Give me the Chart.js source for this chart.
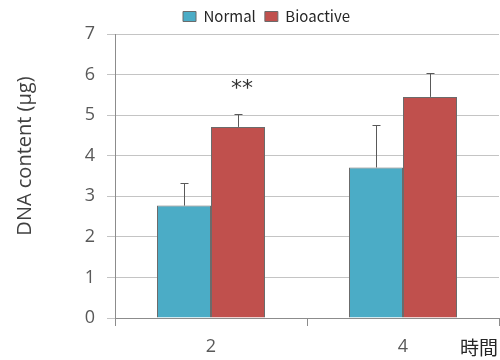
<!DOCTYPE html>
<html>
<head>
<meta charset="utf-8">
<script src="https://cdn.jsdelivr.net/npm/chart.js@4/dist/chart.umd.min.js"></script>
<style>
html,body{margin:0;padding:0;background:#fff;}
#wrap{width:500px;height:360px;position:relative;}
</style>
</head>
<body>
<div id="wrap"><canvas id="c" width="500" height="360"></canvas></div>
<script>
const categories = ['2', '4'];
const seriesNames = ['Normal', 'Bioactive'];
const normalValues = [2.77, 3.71];
const bioactiveValues = [4.71, 5.45];
const normalErrors = [0.56, 1.04];
const bioactiveErrors = [0.33, 0.60];
const yTickValues = [0, 1, 2, 3, 4, 5, 6, 7];
const yTitle = 'DNA content (\u03bcg)';
const xTitle = '時間';
const significance = ['**', ''];

const errorsBySeries = [normalErrors, bioactiveErrors];

const legendShiftPlugin = {
  id: 'legendShift',
  afterLayout(chart) {
    if (chart.legend) { chart.legend.left += 17; chart.legend.right += 17; }
  }
};

const errorBarPlugin = {
  id: 'errorBars',
  afterDatasetsDraw(chart) {
    const ctx = chart.ctx;
    const y = chart.scales.y;
    ctx.save();
    ctx.strokeStyle = '#595959';
    ctx.lineWidth = 1;
    chart.data.datasets.forEach((ds, i) => {
      const meta = chart.getDatasetMeta(i);
      meta.data.forEach((bar, j) => {
        const top = y.getPixelForValue(ds.data[j] + errorsBySeries[i][j]);
        const x = Math.round(bar.x) + 0.5;
        ctx.beginPath();
        ctx.moveTo(x, bar.y);
        ctx.lineTo(x, Math.round(top) + 0.5);
        ctx.moveTo(x - 4, Math.round(top) + 0.5);
        ctx.lineTo(x + 4, Math.round(top) + 0.5);
        ctx.stroke();
      });
    });
    // significance marks above Bioactive bars
    const meta = chart.getDatasetMeta(1);
    ctx.fillStyle = '#333333';
    ctx.font = '22px "DejaVu Sans"';
    ctx.textAlign = 'center';
    ctx.textBaseline = 'middle';
    meta.data.forEach((bar, j) => {
      if (significance[j]) {
        const top = y.getPixelForValue(bioactiveValues[j] + bioactiveErrors[j]);
        ctx.fillText(significance[j], bar.x + 4, top - 24);
      }
    });
    // axis titles
    ctx.fillStyle = '#262626';
    ctx.font = '19px "Noto Sans CJK JP"';
    ctx.textAlign = 'right';
    ctx.textBaseline = 'middle';
    ctx.fillText(xTitle, 498, 348);
    ctx.save();
    ctx.translate(25, 156);
    ctx.rotate(-Math.PI / 2);
    ctx.textAlign = 'center';
    ctx.fillStyle = '#404040';
    ctx.font = '20px "Open Sans"';
    ctx.fillText(yTitle, 0, 0);
    ctx.restore();
    ctx.restore();
  }
};

new Chart(document.getElementById('c'), {
  type: 'bar',
  data: {
    labels: categories,
    datasets: [
      { label: seriesNames[0], data: normalValues, backgroundColor: '#4BACC6', borderColor: '#6b6b6b', borderWidth: 1, barPercentage: 1, categoryPercentage: 0.5625 },
      { label: seriesNames[1], data: bioactiveValues, backgroundColor: '#C0504D', borderColor: '#6b6b6b', borderWidth: 1, barPercentage: 1, categoryPercentage: 0.5625 }
    ]
  },
  options: {
    responsive: false,
    animation: false,
    devicePixelRatio: 1,
    layout: { padding: { left: 0, right: 1, top: 0, bottom: 0 } },
    plugins: {
      legend: {
        position: 'top',
        labels: {
          boxWidth: 13, boxHeight: 10, padding: 9,
          color: '#262626',
          font: { size: 15, family: '"Noto Sans CJK JP"' }
        }
      },
      tooltip: { enabled: false }
    },
    scales: {
      x: {
        afterFit(s) { s.height = 42; },
        grid: { offset: true, drawOnChartArea: false, tickLength: 8, color: '#8c8c8c' },
        border: { color: '#8c8c8c' },
        ticks: { color: '#595959', padding: 10, font: { size: 18, family: '"Open Sans"' } }
      },
      y: {
        min: 0, max: 7,
        afterFit(s) { s.width = 115; },
        afterBuildTicks(s) { s.ticks = yTickValues.map(v => ({ value: v })); },
        grid: { color: '#c4c4c4', tickLength: 8 },
        border: { color: '#8c8c8c' },
        ticks: { color: '#595959', padding: 12, font: { size: 18, family: '"Open Sans"' } }
      }
    }
  },
  plugins: [errorBarPlugin, legendShiftPlugin]
});
</script>
</body>
</html>
